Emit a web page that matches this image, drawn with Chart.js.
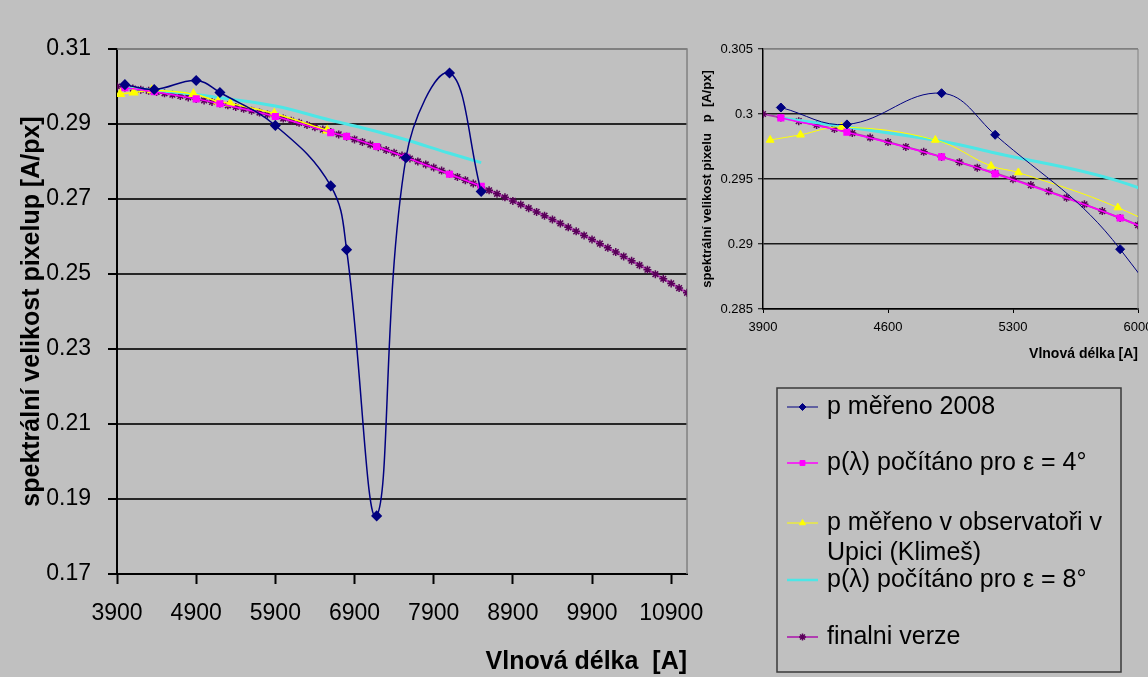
<!DOCTYPE html>
<html>
<head>
<meta charset="utf-8">
<title>Spektrální velikost pixelu</title>
<script src="https://cdn.jsdelivr.net/npm/chart.js@4.4.0/dist/chart.umd.min.js"></script>
<style>
  html, body { margin: 0; padding: 0; background: #c0c0c0; overflow: hidden; }
  body { width: 1148px; height: 677px; position: relative; }
  #main { position: absolute; left: 0; top: 0; }
  #inset { position: absolute; left: 700px; top: 0; }
</style>
</head>
<body>
<canvas id="main" width="720" height="677"></canvas>
<canvas id="inset" width="470" height="677"></canvas>
<script>
const FONT = "'Liberation Sans', Arial, sans-serif";

// tick labels
const xTicksMain = [3900, 4900, 5900, 6900, 7900, 8900, 9900, 10900];
const yTicksMain = [0.17, 0.19, 0.21, 0.23, 0.25, 0.27, 0.29, 0.31];
const xTicksInset = [3900, 4600, 5300, 6000];
const yTicksInset = [0.285, 0.29, 0.295, 0.3, 0.305];

// series
const seriesLabels = [
  'p měřeno 2008',
  'p(λ) počítáno pro ε = 4°',
  'p měřeno v observatoři v Upici (Klimeš)',
  'p(λ) počítáno pro ε = 8°',
  'finalni verze'
];
const wavelengths = [4000, 4370, 4900, 5200, 5900, 6600, 6800, 7180, 7550, 8100, 8500];
const measured2008 = [0.3005, 0.2992, 0.3016, 0.2984, 0.2896, 0.2735, 0.2565, 0.1855, 0.2810, 0.3036, 0.2720];
const computedEps4 = [0.2997, 0.2986, 0.2967, 0.2954, 0.2920, 0.2877, 0.2867, 0.2840, 0.2811, 0.2766, 0.2734];
const computedEps8 = [0.2997, 0.2990, 0.2979, 0.2970, 0.2948, 0.2910, 0.2900, 0.2880, 0.2858, 0.2822, 0.2797];
const upiceWavelengths = [3940, 4110, 4340, 4865, 5177, 5330, 5887, 6554];
const upiceValues = [0.2980, 0.2984, 0.2990, 0.2980, 0.2960, 0.2955, 0.2928, 0.2883];
const finalWavelengths = [
  3900, 4000, 4100, 4200, 4300, 4400, 4500, 4600, 4700, 4800,
  4900, 5000, 5100, 5200, 5300, 5400, 5500, 5600, 5700, 5800,
  5900, 6000, 6100, 6200, 6300, 6400, 6500, 6600, 6700, 6800,
  6900, 7000, 7100, 7200, 7300, 7400, 7500, 7600, 7700, 7800,
  7900, 8000, 8100, 8200, 8300, 8400, 8500, 8600, 8700, 8800,
  8900, 9000, 9100, 9200, 9300, 9400, 9500, 9600, 9700, 9800,
  9900, 10000, 10100, 10200, 10300, 10400, 10500, 10600, 10700, 10800,
  10900, 11000, 11100
];
const finalValues = [
  0.30000, 0.29973, 0.29945, 0.29916, 0.29885, 0.29853, 0.29819, 0.29784, 0.29747, 0.29709,
  0.29670, 0.29629, 0.29587, 0.29544, 0.29499, 0.29453, 0.29405, 0.29356, 0.29305, 0.29253,
  0.29200, 0.29145, 0.29089, 0.29032, 0.28973, 0.28913, 0.28851, 0.28788, 0.28723, 0.28657,
  0.28590, 0.28521, 0.28451, 0.28380, 0.28307, 0.28233, 0.28157, 0.28080, 0.28001, 0.27921,
  0.27840, 0.27757, 0.27673, 0.27588, 0.27501, 0.27413, 0.27323, 0.27232, 0.27139, 0.27045,
  0.26950, 0.26853, 0.26755, 0.26656, 0.26555, 0.26453, 0.26349, 0.26244, 0.26137, 0.26029,
  0.25920, 0.25809, 0.25697, 0.25584, 0.25469, 0.25353, 0.25235, 0.25116, 0.24995, 0.24873,
  0.24750, 0.24625, 0.24499
];

function pairs(xs, ys) {
  return xs.map((x, i) => ({ x: x, y: ys[i] }));
}

function buildDatasets(small) {
  return [
    {
      label: seriesLabels[0], data: pairs(wavelengths, measured2008),
      borderColor: '#000080', borderWidth: small ? 1 : 1.5, tension: 0.4,
      pointStyle: 'rectRot', pointRadius: 4.5, pointBackgroundColor: '#000080', pointBorderColor: '#000080'
    },
    {
      label: seriesLabels[1], data: pairs(wavelengths, computedEps4),
      borderColor: '#ff00ff', borderWidth: 1.5, tension: 0.4,
      pointStyle: 'rect', pointRadius: 4, pointBackgroundColor: '#ff00ff', pointBorderColor: '#ff00ff'
    },
    {
      label: seriesLabels[2], data: pairs(upiceWavelengths, upiceValues),
      borderColor: '#ffff00', borderWidth: small ? 1 : 1.5, tension: 0.4,
      pointStyle: 'triangle', pointRadius: 4.5, pointBackgroundColor: '#ffff00', pointBorderColor: '#ffff00'
    },
    {
      label: seriesLabels[3], data: pairs(wavelengths, computedEps8),
      borderColor: '#4de6e6', borderWidth: 3, tension: 0.4,
      pointRadius: 0
    },
    {
      label: seriesLabels[4], data: pairs(finalWavelengths, finalValues),
      borderColor: '#b03cb0', borderWidth: 2, tension: 0,
      pointStyle: 'star', pointRadius: 4, pointBorderWidth: 1.5,
      pointBackgroundColor: '#5a005a', pointBorderColor: '#5a005a'
    }
  ];
}

// grey frame on top and right of the plot area
const plotFrame = {
  id: 'plotFrame',
  beforeDatasetsDraw(chart, args, opts) {
    const { ctx, chartArea: a } = chart;
    ctx.save();
    ctx.strokeStyle = '#808080';
    ctx.lineWidth = opts.width || 1.5;
    ctx.beginPath();
    ctx.moveTo(a.left, a.top);
    ctx.lineTo(a.right, a.top);
    ctx.lineTo(a.right, a.bottom);
    ctx.stroke();
    ctx.restore();
  }
};

// boxed legend under the small chart
const insetLegend = {
  id: 'insetLegend',
  afterDraw(chart, args, o) {
    const ctx = chart.ctx;
    ctx.save();
    ctx.lineWidth = 1.5;
    ctx.strokeStyle = '#3a3a3a';
    ctx.strokeRect(o.left, o.top, o.width, o.height);
    ctx.font = o.fontSize + 'px ' + FONT;
    ctx.textBaseline = 'middle';
    chart.data.datasets.forEach((ds, i) => {
      const y = o.rows[i];
      ctx.strokeStyle = ds.borderColor;
      ctx.lineWidth = Math.min(ds.borderWidth, 2.5);
      ctx.beginPath();
      ctx.moveTo(o.sampleX0, y);
      ctx.lineTo(o.sampleX1, y);
      ctx.stroke();
      if (ds.pointRadius > 0) {
        ctx.fillStyle = ds.pointBackgroundColor;
        ctx.strokeStyle = ds.pointBorderColor;
        ctx.lineWidth = ds.pointBorderWidth || 1;
        Chart.helpers.drawPoint(ctx, {
          pointStyle: ds.pointStyle, radius: 3.5, borderWidth: ctx.lineWidth, rotation: 0
        }, (o.sampleX0 + o.sampleX1) / 2, y);
      }
      ctx.fillStyle = '#000';
      const words = ds.label.split(' ');
      let line = '';
      let ly = y;
      words.forEach(w => {
        const test = line ? line + ' ' + w : w;
        if (line && ctx.measureText(test).width > o.textWidth) {
          ctx.fillText(line, o.textX, ly);
          line = w;
          ly += o.lineHeight;
        } else {
          line = test;
        }
      });
      ctx.fillText(line, o.textX, ly);
    });
    ctx.restore();
  }
};

Chart.defaults.font.family = FONT;
Chart.defaults.color = '#000';

new Chart(document.getElementById('main'), {
  type: 'line',
  data: { datasets: buildDatasets(false) },
  plugins: [plotFrame],
  options: {
    responsive: false,
    animation: false,
    devicePixelRatio: 1,
    layout: { padding: { left: 0, top: 49, right: 30, bottom: 0 } },
    elements: { line: { capBezierPoints: false } },
    plugins: { legend: { display: false }, tooltip: { enabled: false }, plotFrame: { width: 1.5 } },
    scales: {
      x: {
        type: 'linear', min: 3900, max: 11100,
        afterBuildTicks: s => { s.ticks = xTicksMain.map(v => ({ value: v })); },
        afterFit: s => { s.height = 103; },
        grid: { drawOnChartArea: false, drawTicks: true, tickLength: 10, tickColor: '#000', tickWidth: 2 },
        border: { color: '#000', width: 2 },
        ticks: { color: '#000', font: { size: 23 }, padding: 16, maxRotation: 0, autoSkip: false, callback: v => String(v) },
        title: { display: true, text: 'Vlnová délka  [A]', align: 'end', color: '#000',
          font: { size: 25, weight: 'bold' }, padding: { top: 0, bottom: 0 } }
      },
      y: {
        type: 'linear', min: 0.17, max: 0.31,
        afterBuildTicks: s => { s.ticks = yTicksMain.map(v => ({ value: v })); },
        afterFit: s => { s.width = 117; },
        grid: {
          color: c => (c.tick && c.tick.value === 0.31) ? '#808080' : '#262626',
          lineWidth: 2, tickLength: 9, tickColor: '#000', tickWidth: 2
        },
        border: { color: '#000', width: 2 },
        ticks: { color: '#000', font: { size: 23 }, padding: 17, callback: v => v.toFixed(2) },
        title: { display: true, text: 'spektrální velikost pixelup [A/px]', color: '#000',
          font: { size: 25, weight: 'bold' }, padding: { top: 17, bottom: 0 } }
      }
    }
  }
});

new Chart(document.getElementById('inset'), {
  type: 'line',
  data: { datasets: buildDatasets(true) },
  plugins: [plotFrame, insetLegend],
  options: {
    responsive: false,
    animation: false,
    devicePixelRatio: 1,
    layout: { padding: { left: 0, top: 49, right: 32, bottom: 0 } },
    elements: { line: { capBezierPoints: false } },
    plugins: {
      legend: { display: false }, tooltip: { enabled: false },
      plotFrame: { width: 1 },
      insetLegend: {
        left: 77, top: 388, width: 344, height: 284,
        sampleX0: 87, sampleX1: 118, textX: 127, textWidth: 292,
        fontSize: 25, lineHeight: 30, rows: [407, 463, 523, 580, 637]
      }
    },
    scales: {
      x: {
        type: 'linear', min: 3900, max: 6000,
        afterBuildTicks: s => { s.ticks = xTicksInset.map(v => ({ value: v })); },
        afterFit: s => { s.height = 368; },
        grid: { drawOnChartArea: false, drawTicks: true, tickLength: 4, tickColor: '#000', tickWidth: 1 },
        border: { color: '#000', width: 1.5 },
        ticks: { color: '#000', font: { size: 13 }, padding: 7, maxRotation: 0, autoSkip: false, callback: v => String(v) },
        title: { display: true, text: 'Vlnová délka [A]', align: 'end', color: '#000',
          font: { size: 14, weight: 'bold' }, padding: { top: 0, bottom: 314 } }
      },
      y: {
        type: 'linear', min: 0.285, max: 0.305,
        afterBuildTicks: s => { s.ticks = yTicksInset.map(v => ({ value: v })); },
        afterFit: s => { s.width = 63; },
        grid: {
          color: c => (c.tick && c.tick.value === 0.305) ? '#808080' : '#1a1a1a',
          lineWidth: 1.5, tickLength: 5, tickColor: '#000', tickWidth: 1
        },
        border: { color: '#000', width: 1.5 },
        ticks: { color: '#000', font: { size: 13 }, padding: 5, callback: v => String(parseFloat(v.toFixed(3))) },
        title: { display: true, text: 'spektrální velikost pixelu   p  [A/px]', color: '#000',
          font: { size: 13, weight: 'bold' }, padding: { top: 0, bottom: 0 } }
      }
    }
  }
});
</script>
</body>
</html>
